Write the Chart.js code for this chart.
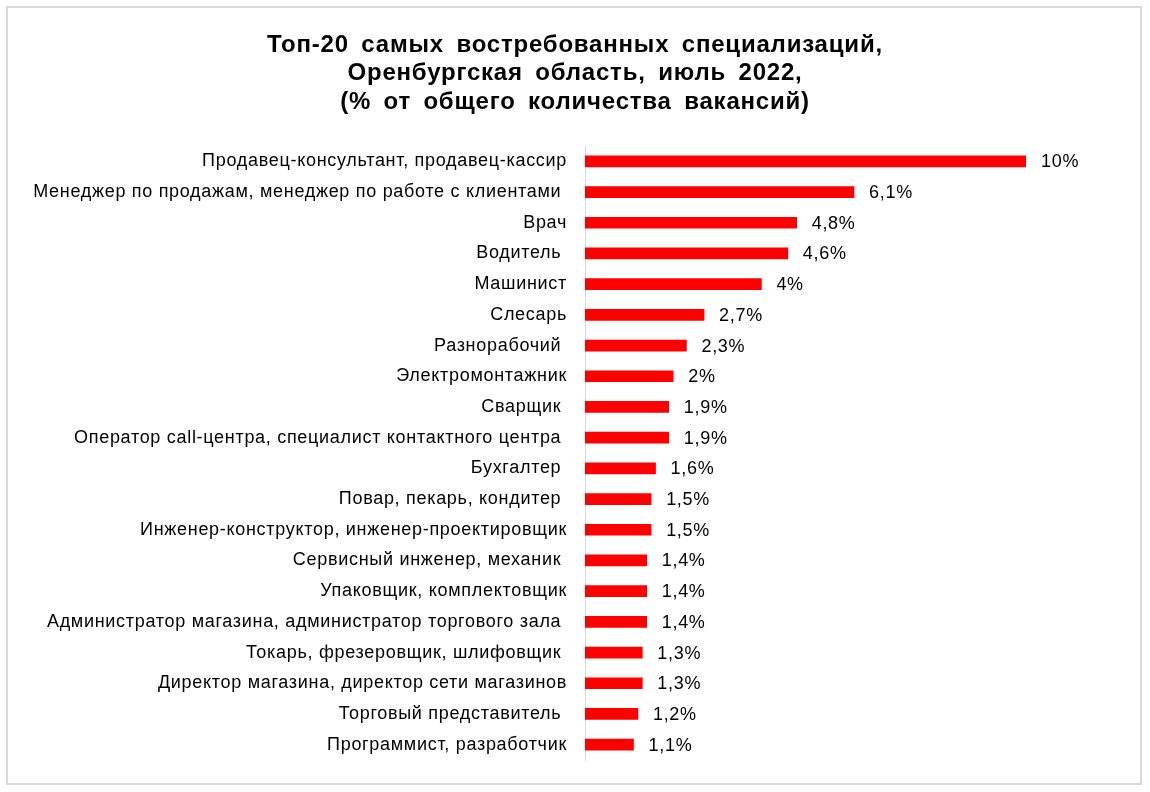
<!DOCTYPE html>
<html>
<head>
<meta charset="utf-8">
<script src="https://cdn.jsdelivr.net/npm/chart.js@4"></script>
<style>
  body { margin: 0; background: #fff; }
</style>
</head>
<body>
<canvas id="topChart" width="1150" height="792"></canvas>
<script>
// categories (trailing spaces as in the source labels)
var specs = [
  "Продавец-консультант, продавец-кассир",
  "Менеджер по продажам, менеджер по работе с клиентами ",
  "Врач",
  "Водитель ",
  "Машинист",
  "Слесарь",
  "Разнорабочий ",
  "Электромонтажник",
  "Сварщик ",
  "Оператор call-центра, специалист контактного центра ",
  "Бухгалтер ",
  "Повар, пекарь, кондитер ",
  "Инженер-конструктор, инженер-проектировщик",
  "Сервисный инженер, механик ",
  "Упаковщик, комплектовщик",
  "Администратор магазина, администратор торгового зала ",
  "Токарь, фрезеровщик, шлифовщик ",
  "Директор магазина, директор сети магазинов",
  "Торговый представитель ",
  "Программист, разработчик"
];
// share of vacancies, %
var shares = [10, 6.1, 4.8, 4.6, 4, 2.7, 2.3, 2, 1.9, 1.9, 1.6, 1.5, 1.5, 1.4, 1.4, 1.4, 1.3, 1.3, 1.2, 1.1];

var titleLines = [
  "Топ-20 самых востребованных специализаций,",
  "Оренбургская область, июль 2022,",
  "(% от общего количества вакансий)"
];

var FONT = "'Liberation Sans', Arial, sans-serif";

//grey frame, slightly wide text like the excel export
var frame = {
  id: "frame",
  beforeDraw: function(chart) {
    var ctx = chart.ctx;
    ctx.save();
    ctx.fillStyle = "#fff";
    ctx.fillRect(0, 0, chart.width, chart.height);
    ctx.strokeStyle = "#d9d9d9";
    ctx.lineWidth = 2;
    ctx.strokeRect(7, 7, 1134, 777);
    ctx.restore();
    ctx.letterSpacing = "0.7px";
  },
  afterDraw: function(chart) {
    chart.ctx.letterSpacing = "0px";
  }
};

//title drawn by hand so word spacing can be widened
var bigTitle = {
  id: "bigTitle",
  afterDraw: function(chart) {
    var ctx = chart.ctx;
    ctx.save();
    ctx.font = "bold 24px " + FONT;
    ctx.letterSpacing = "0.8px";
    ctx.wordSpacing = "5px";
    ctx.fillStyle = "#000";
    ctx.textAlign = "center";
    ctx.textBaseline = "middle";
    titleLines.forEach(function(t, i) {
      ctx.fillText(t, 575, 45 + i * 28.5);
    });
    ctx.restore();
  }
};

//value labels to the right of bars
var valueLabels = {
  id: "valueLabels",
  afterDatasetsDraw: function(chart) {
    var ctx = chart.ctx;
    var meta = chart.getDatasetMeta(0);
    ctx.save();
    ctx.font = "18px " + FONT;
    ctx.fillStyle = "#000";
    ctx.textAlign = "left";
    ctx.textBaseline = "middle";
    meta.data.forEach(function(bar, i) {
      var txt = String(shares[i]).replace(".", ",") + "%";
      ctx.fillText(txt, bar.x + 15, bar.y + 1);
    });
    ctx.restore();
  }
};

new Chart("topChart", {
  type: "bar",
  data: {
    labels: specs,
    datasets: [{
      data: shares,
      backgroundColor: "#ff0000",
      barThickness: 11
    }]
  },
  options: {
    indexAxis: "y",
    responsive: false,
    animation: false,
    layout: {
      padding: { top: 146, right: 124, bottom: 32, left: 0 }
    },
    plugins: {
      legend: { display: false },
      tooltip: { enabled: false },
      title: { display: false }
    },
    scales: {
      x: {
        display: false,
        min: 0,
        max: 10
      },
      y: {
        afterFit: function(s) { s.width = 585; },
        grid: { display: false, drawTicks: false },
        border: { display: true, color: "#d9d9d9", width: 1 },
        ticks: {
          padding: 18,
          color: "#000",
          font: { family: FONT, size: 18 }
        }
      }
    }
  },
  plugins: [frame, valueLabels, bigTitle]
});
</script>
</body>
</html>
